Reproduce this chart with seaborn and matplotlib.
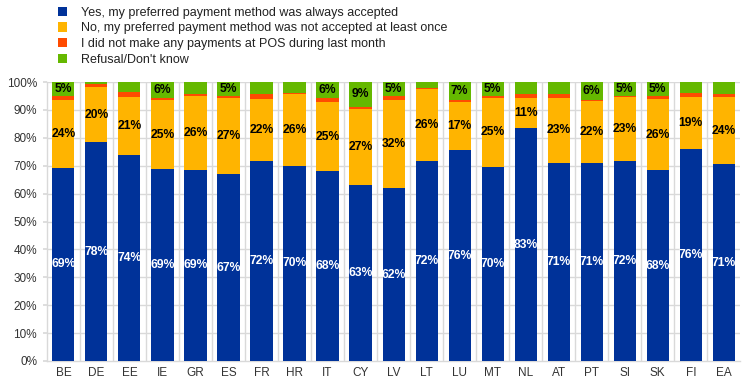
import numpy as np
import pandas as pd
import seaborn as sns
import matplotlib.pyplot as plt
from matplotlib.patches import Patch

countries = ['BE', 'DE', 'EE', 'IE', 'GR', 'ES', 'FR', 'HR', 'IT', 'CY', 'LV',
             'LT', 'LU', 'MT', 'NL', 'AT', 'PT', 'SI', 'SK', 'FI', 'EA']
accepted = [69.3, 78.4, 73.8, 68.8, 68.6, 67.0, 71.7, 70.0, 68.1, 63.1, 62.0,
            71.6, 75.6, 69.6, 83.4, 71.0, 71.0, 71.7, 68.4, 76.0, 70.6]
not_accepted = [24.2, 19.8, 21.0, 24.7, 26.3, 27.3, 22.2, 25.7, 24.6, 27.4, 31.6,
                25.9, 17.3, 24.7, 10.9, 23.3, 22.2, 22.9, 25.6, 18.6, 24.0]
no_payments = [1.5, 1.1, 1.6, 0.8, 0.8, 0.6, 1.8, 0.5, 1.6, 0.7, 1.4,
               0.5, 0.5, 0.7, 1.4, 1.4, 0.5, 0.4, 1.0, 1.5, 1.1]
refusal = [5.0, 0.7, 3.6, 5.7, 4.3, 5.1, 4.3, 3.8, 5.7, 8.8, 5.0,
           2.0, 6.6, 5.0, 4.3, 4.3, 6.3, 5.0, 5.0, 3.9, 4.3]

series_names = ['Yes, my preferred payment method was always accepted',
                'No, my preferred payment method was not accepted at least once',
                'I did not make any payments at POS during last month',
                'Refusal/Don\'t know']
colors = ['#003299', '#FFB400', '#FF4B00', '#65B800']

sns.set_theme(style='white')
plt.rcParams['font.family'] = ['Liberation Sans', 'DejaVu Sans']

fig = plt.figure(figsize=(7.44, 3.89), dpi=100)
ax = fig.add_axes([0.063, 0.072, 0.932, 0.717])

layers = [accepted, not_accepted, no_payments, refusal]
bottom = np.zeros(len(countries))
for vals, name, col in zip(layers, series_names, colors):
    df = pd.DataFrame({'country': countries, 'value': vals})
    sns.barplot(data=df, x='country', y='value', color=col, bottom=bottom,
                width=0.67, saturation=1, ax=ax, linewidth=0, zorder=3)
    bottom = bottom + np.array(vals)

# segment labels
base = np.zeros(len(countries))
for k, vals in enumerate(layers):
    for i, v in enumerate(vals):
        mid = base[i] + v / 2
        if k == 0:
            ax.text(i, mid, f'{v:.0f}%', ha='center', va='center', color='white',
                    fontsize=8.7, fontweight='bold', zorder=5)
        elif k == 1:
            ax.text(i, mid, f'{v:.0f}%', ha='center', va='center', color='black',
                    fontsize=8.7, fontweight='bold', zorder=5)
        elif k == 3 and v >= 4.5:
            ax.text(i, mid, f'{v:.0f}%', ha='center', va='center', color='black',
                    fontsize=8.7, fontweight='bold', zorder=5)
    base = base + np.array(vals)

ax.set_xlim(-0.5, len(countries) - 0.5)
ax.set_ylim(0, 100)
ax.set_yticks(np.arange(0, 101, 10))
ax.set_yticklabels([f'{t}%' for t in range(0, 101, 10)])
ax.set_xlabel('')
ax.set_ylabel('')

# grid lines, horizontal and between categories
for y in range(10, 101, 10):
    ax.axhline(y, color='#d9d9d9', lw=1, zorder=1)
for x in np.arange(0.5, len(countries) - 0.5, 1):
    ax.axvline(x, color='#d9d9d9', lw=1, zorder=1)

for s in ['top', 'right']:
    ax.spines[s].set_visible(False)
for s in ['left', 'bottom']:
    ax.spines[s].set_color('#d9d9d9')
    ax.spines[s].set_linewidth(1)
ax.tick_params(axis='both', labelsize=8.5, colors='#333333', length=0, pad=4)
ax.tick_params(axis='y', length=3, color='#d9d9d9', left=True)

handles = [Patch(facecolor=c, edgecolor='none') for c in colors]
fig.legend(handles, series_names, loc='upper left', bbox_to_anchor=(0.063, 1.012),
           frameon=False, fontsize=9, handlelength=0.75, handleheight=0.75,
           handletextpad=1.1, labelspacing=0.3, labelcolor='#222222')

fig.savefig('out.png', dpi=100)
